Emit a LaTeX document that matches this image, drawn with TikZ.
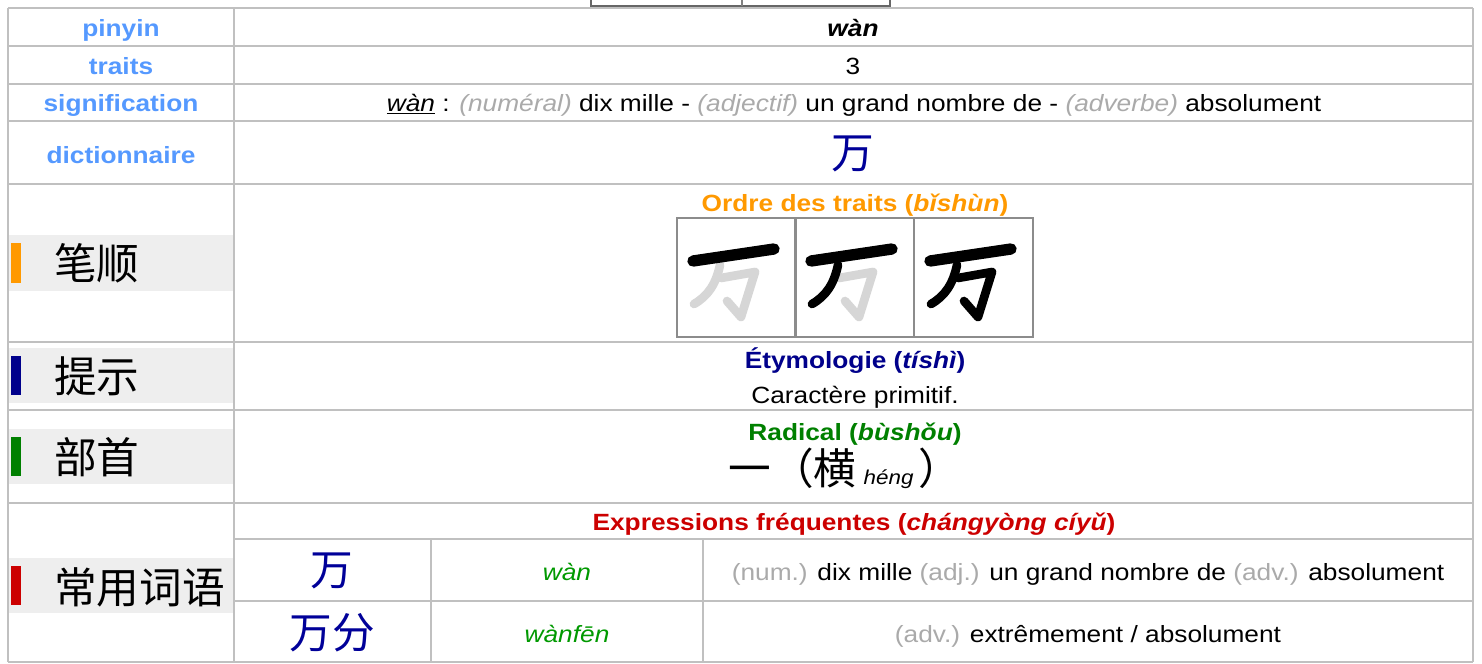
\documentclass[tikz,border=0pt]{standalone}
\usepackage{fontspec}
\setmainfont{Liberation Sans}[FakeStretch=1.12]
\newfontfamily\cjk{Noto Sans CJK SC}
\definecolor{lab}{RGB}{85,153,255}
\definecolor{rule}{RGB}{192,192,192}
\definecolor{band}{RGB}{238,238,238}
\definecolor{ordre}{RGB}{255,153,0}
\definecolor{etym}{RGB}{0,0,139}
\definecolor{radic}{RGB}{0,128,0}
\definecolor{expr}{RGB}{204,0,0}
\definecolor{pygreen}{RGB}{0,153,0}
\definecolor{hz}{RGB}{0,0,153}
\definecolor{mute}{RGB}{170,170,170}
\definecolor{ghost}{RGB}{214,214,214}
\newcommand\mute[1]{\textcolor{mute}{#1}}
% one stroke-order square: left x, colours of heng, pie, hengzhegou
\newcommand\wanbox[4]{%
  \begin{scope}[shift={(#1,218)}]
    \draw[brush,#4] (44,60) -- (78,54) -- (64,99) -- (50,83);
    \draw[brush,#3] (43,47) .. controls (39,66) and (31,78) .. (17,86);
    \draw[brush,#2,line width=8.5pt] (16,43) -- (97,31);
  \end{scope}}

\begin{document}
\begin{tikzpicture}[x=0.75pt,y=-0.75pt,
    every node/.style={inner sep=0pt,font=\fontsize{17.6}{20}\selectfont},
    cellname/.style={font=\fontsize{17.6}{20}\selectfont\bfseries,text=lab,anchor=base},
    hanzi/.style={font=\cjk\fontsize{32}{36}\selectfont,text=hz},
    tag/.style={font=\cjk\fontsize{32}{36}\selectfont,anchor=west},
    tableline/.style={draw=rule,line width=2pt},
    brush/.style={line width=6.5pt,line cap=round,line join=round}]
    \path[use as bounding box,clip] (0,0) rectangle (1482,664);
    \fill[white] (0,0) rectangle (1482,664);

    % grey bands and colour swatches of the left column
    \foreach \top/\bot/\col in {235/291/ordre,348/403/etym,429/484/radic,558/613/expr}{
        \fill[band] (8,\top) rectangle (234,\bot);
        \fill[\col] (11,\top+8) rectangle (21,\bot-8);
    }

    % table rules
    \foreach \y in {8,46,84,121,184,342,410,503,662}
        \draw[tableline] (8,\y) -- (1473,\y);
    \foreach \x in {8,234,1473}
        \draw[tableline] (\x,8) -- (\x,662);
    \foreach \y in {539,601}
        \draw[tableline] (234,\y) -- (1473,\y);
    \foreach \x in {431,703}
        \draw[tableline] (\x,539) -- (\x,662);

    % edge of the box above the table
    \draw[gray!80!black,line width=1.2pt] (591,-10) rectangle (890,6);
    \draw[gray,line width=1pt] (742,-10) -- (742,6);

    \node[cellname] (pinyin) at (121,36) {pinyin};
    \node[cellname] (traits) at (121,74) {traits};
    \node[cellname] (sens) at (121,111) {signification};
    \node[cellname] (dico) at (121,163) {dictionnaire};

    \node[anchor=base,font=\fontsize{17.6}{20}\selectfont\bfseries\itshape] (wan) at (853,36) {wàn};
    \node[anchor=base] (nbtraits) at (853,74) {3};
    \node[anchor=base] (sensval) at (854,111) {\underline{\textit{wàn}} : \mute{\textit{(numéral)}} dix mille - \mute{\textit{(adjectif)}} un grand nombre de - \mute{\textit{(adverbe)}} absolument};
    \node[hanzi] (dicoval) at (853,154) {万};

    % stroke order
    \node[tag] (bishun) at (54,263) {笔顺};
    \node[anchor=base,text=ordre,font=\fontsize{17.6}{20}\selectfont\bfseries] (ordre) at (855,211) {Ordre des traits (\textit{bǐshùn})};
    \wanbox{677}{black}{ghost}{ghost}
    \wanbox{795}{black}{black}{ghost}
    \wanbox{914}{black}{black}{black}
    \foreach \x in {677,795,914}
        \draw[gray!90,line width=1.2pt] (\x,218) rectangle +(119,119);

    \node[tag] (tishi) at (54,376) {提示};
    \node[anchor=base,text=etym,font=\fontsize{17.6}{20}\selectfont\bfseries] (etymo) at (855,368) {Étymologie (\textit{tíshì})};
    \node[anchor=base] (etymoval) at (855,403) {Caractère primitif.};

    \node[tag] (bushou) at (54,457) {部首};
    \node[anchor=base,text=radic,font=\fontsize{17.6}{20}\selectfont\bfseries] (radical) at (855,440) {Radical (\textit{bùshǒu})};
    \node[anchor=base] (radicalval) at (845,484) {{\cjk\fontsize{32}{36}\selectfont 一（横} {\fontsize{15}{18}\selectfont\itshape héng}\hspace{4pt}{\cjk\fontsize{32}{36}\selectfont ）}};

    % frequent expressions
    \node[tag] (ciyu) at (54,587) {常用词语};
    \node[anchor=base,text=expr,font=\fontsize{17.6}{20}\selectfont\bfseries] (expr) at (854,530) {Expressions fréquentes (\textit{chángyòng cíyǔ})};
    \node[hanzi] (exA) at (332,571) {万};
    \node[anchor=base,text=pygreen,font=\fontsize{17.6}{20}\selectfont\itshape] (pyA) at (567,580) {wàn};
    \node[anchor=base] (trA) at (1088,580) {\mute{(num.)} dix mille \mute{(adj.)} un grand nombre de \mute{(adv.)} absolument};
    \node[hanzi] (exB) at (332,633) {万分};
    \node[anchor=base,text=pygreen,font=\fontsize{17.6}{20}\selectfont\itshape] (pyB) at (567,642) {wànfēn};
    \node[anchor=base] (trB) at (1088,642) {\mute{(adv.)} extrêmement / absolument};
\end{tikzpicture}
\end{document}
